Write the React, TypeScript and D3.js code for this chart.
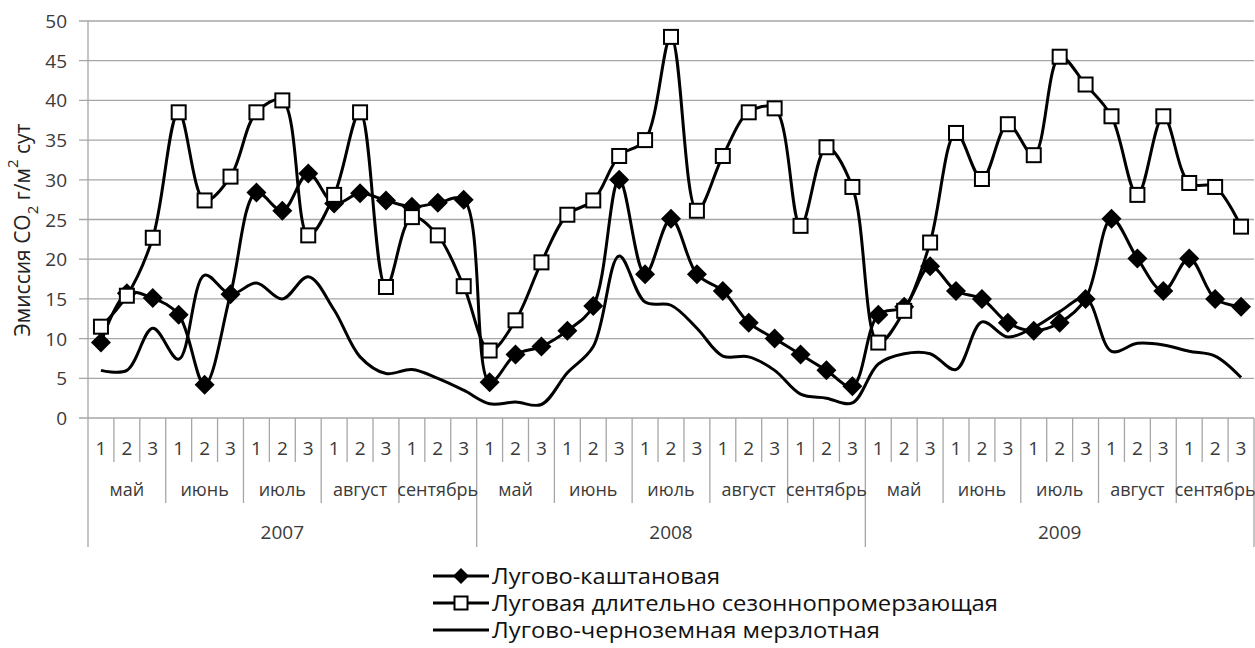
import * as d3 from 'd3';
import React from 'react';

const years = ['2007', '2008', '2009'];
const months = ['май', 'июнь', 'июль', 'август', 'сентябрь'];
const decades = ['1', '2', '3'];

const kashtan = [
  9.5, 15.7, 15.1, 13.0, 4.2, 15.6, 28.4, 26.1, 30.8, 27.0, 28.3, 27.4, 26.6, 27.1, 27.5,
  4.5, 8.0, 9.0, 11.0, 14.1, 30.0, 18.1, 25.1, 18.1, 16.0, 12.0, 10.0, 8.0, 6.0, 4.0,
  13.0, 14.0, 19.1, 16.0, 15.0, 12.0, 11.0, 12.0, 15.0, 25.1, 20.1, 16.0, 20.1, 15.0, 14.0,
];
const lugovaya = [
  11.5, 15.4, 22.7, 38.5, 27.4, 30.4, 38.5, 40.0, 23.0, 28.1, 38.5, 16.5, 25.3, 23.0, 16.6,
  8.5, 12.3, 19.6, 25.6, 27.4, 33.0, 35.0, 48.0, 26.1, 33.0, 38.5, 39.0, 24.2, 34.1, 29.1,
  9.5, 13.5, 22.1, 35.9, 30.1, 37.0, 33.1, 45.5, 42.0, 38.0, 28.1, 38.0, 29.6, 29.1, 24.1,
];
const chernozem = [
  6.0, 6.0, 11.3, 7.4, 18.0, 15.6, 17.0, 15.0, 17.8, 13.6, 7.7, 5.6, 6.1, 5.0, 3.5,
  1.8, 2.0, 1.7, 5.7, 9.0, 20.4, 14.6, 14.2, 11.3, 7.8, 7.7, 6.0, 3.0, 2.5, 1.9,
  6.8, 8.1, 8.1, 6.1, 12.1, 10.2, 11.4, 13.4, 15.1, 8.4, 9.4, 9.2, 8.4, 7.8, 5.1,
];
const seriesNames = [
  'Лугово-каштановая',
  'Луговая длительно сезоннопромерзающая',
  'Лугово-черноземная мерзлотная',
];
const yTicks = [0, 5, 10, 15, 20, 25, 30, 35, 40, 45, 50];

const W = 1255;
const H = 648;
const left = 88;
const right = 1254;
const top = 21;
const bottom = 418;
const grid = '#a6a6a6';
const font = '"Open Sans", sans-serif';
const labelCol = '#3a3a3a';

const cats: string[] = [];
years.forEach(y => months.forEach(m => decades.forEach(d => cats.push(`${y}|${m}|${d}`))));

function Diamond({ x, y, r }: { x: number; y: number; r: number }) {
  return <path d={`M${x},${y - r}L${x + r},${y}L${x},${y + r}L${x - r},${y}Z`} fill="#000" />;
}

function Square({ x, y, s }: { x: number; y: number; s: number }) {
  return <rect x={x - s / 2} y={y - s / 2} width={s} height={s} fill="#fff" stroke="#000" strokeWidth={2} />;
}

export default function App() {
  const x = d3.scaleBand().domain(cats).range([left, right]).padding(0);
  const y = d3.scaleLinear().domain([0, 50]).range([bottom, top]);
  const bw = x.bandwidth();
  const cx = (i: number) => (x(cats[i]) as number) + bw / 2;

  const line = d3.line<number>()
    .x((_, i) => cx(i))
    .y(d => y(d))
    .curve(d3.curveCatmullRom.alpha(0.5));

  const legendY = [576, 603, 630];
  // legend text widths as they appear in the original (stretched Calibri)
  const legendW = [228, 506, 388];

  return (
    <svg width={W} height={H} style={{ position: 'absolute', left: 0, top: 0, background: '#fff' }}
      fontFamily={font}>
      {yTicks.map(t => (
        <g key={t}>
          <line x1={79} x2={right} y1={y(t)} y2={y(t)} stroke={grid} strokeWidth={1.3} />
          <text x={67} y={y(t)} textAnchor="end" dominantBaseline="central" fontSize={19} fill={labelCol}>{t}</text>
        </g>
      ))}
      <line x1={left} x2={left} y1={top} y2={bottom} stroke={grid} strokeWidth={1.3} />

      {d3.range(cats.length + 1).map(i => {
        const xx = i < cats.length ? (x(cats[i]) as number) : right;
        const len = i % 15 === 0 ? 129 : i % 3 === 0 ? 85 : 44;
        return <line key={'t' + i} x1={xx} x2={xx} y1={bottom} y2={bottom + len} stroke={grid} strokeWidth={1.3} />;
      })}
      {cats.map((c, i) => (
        <text key={'d' + i} x={cx(i)} y={448} textAnchor="middle" dominantBaseline="central" fontSize={19} fill={labelCol}>
          {c.split('|')[2]}
        </text>
      ))}
      {d3.range(years.length * months.length).map(k => (
        <text key={'m' + k} x={(cx(k * 3) + cx(k * 3 + 2)) / 2} y={489} textAnchor="middle" dominantBaseline="central"
          fontSize={18} fill={labelCol}>
          {months[k % months.length]}
        </text>
      ))}
      {years.map((yr, k) => (
        <text key={yr} x={(cx(k * 15) + cx(k * 15 + 14)) / 2} y={532} textAnchor="middle" dominantBaseline="central"
          fontSize={19} fill={labelCol}>
          {yr}
        </text>
      ))}

      <text transform={`translate(22,230) rotate(-90)`} textAnchor="middle"
        dominantBaseline="central" fontSize={21} fill="#222">
        Эмиссия CO<tspan baselineShift="sub" fontSize={15}>2</tspan> г/м<tspan baselineShift="super" fontSize={15}>2</tspan> сут
      </text>

      <path d={line(kashtan) || ''} fill="none" stroke="#000" strokeWidth={3} />
      {kashtan.map((v, i) => <Diamond key={'k' + i} x={cx(i)} y={y(v)} r={10} />)}
      <path d={line(lugovaya) || ''} fill="none" stroke="#000" strokeWidth={3} />
      {lugovaya.map((v, i) => <Square key={'l' + i} x={cx(i)} y={y(v)} s={14} />)}
      <path d={line(chernozem) || ''} fill="none" stroke="#000" strokeWidth={3} />

      {seriesNames.map((n, k) => (
        <g key={n}>
          <line x1={433} x2={489} y1={legendY[k]} y2={legendY[k]} stroke="#000" strokeWidth={3} />
          {k === 0 && <Diamond x={461} y={legendY[k]} r={8} />}
          {k === 1 && <Square x={461} y={legendY[k]} s={13} />}
          <text x={492} y={legendY[k]} dominantBaseline="central" fontSize={21} fill="#111"
            textLength={legendW[k]} lengthAdjust="spacingAndGlyphs">{n}</text>
        </g>
      ))}
    </svg>
  );
}
